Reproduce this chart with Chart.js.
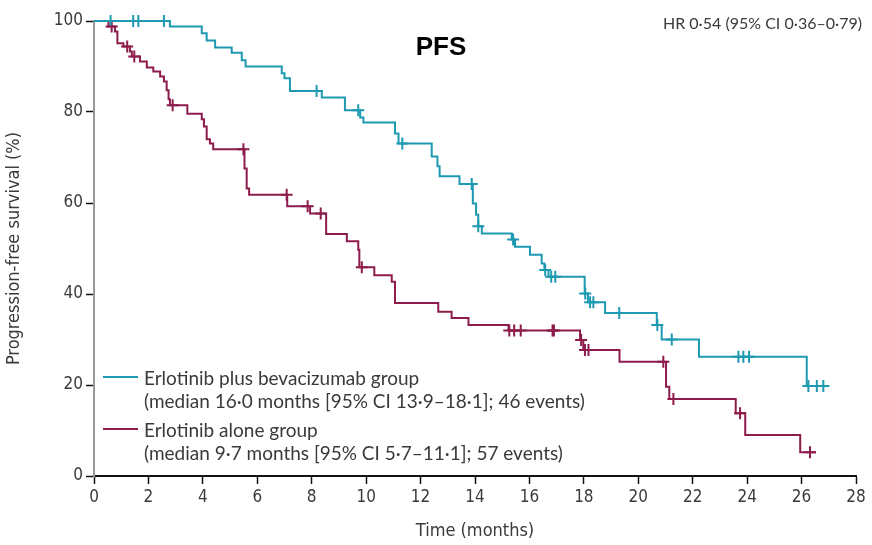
<!DOCTYPE html>
<html>
<head>
<meta charset="utf-8">
<script src="https://cdn.jsdelivr.net/npm/chart.js@4.4.1/dist/chart.umd.min.js"></script>
<style>
  html, body { margin: 0; padding: 0; background: #fff; }
</style>
</head>
<body>
<canvas id="pfsChart" width="872" height="545"></canvas>
<script>
// Kaplan-Meier steps: time of each drop (months) and survival (%) after it
const combTimes = [0, 2.79, 3.96, 4.14, 4.45, 5.06, 5.43, 5.57, 6.9, 7.0, 7.2, 8.37, 9.22, 9.78, 9.9, 11.06, 11.19, 12.41, 12.62, 12.7, 13.43, 13.92, 14.04, 14.12, 14.25, 15.35, 15.47, 16.02, 16.45, 16.55, 16.7, 18.03, 18.15, 18.78, 20.68, 20.86, 22.23, 26.19, 26.9];
const combSurv  = [100, 98.8, 97.3, 95.7, 94.2, 93.0, 91.4, 90.0, 88.5, 87.4, 84.6, 83.2, 80.4, 78.8, 77.7, 75.3, 73.1, 70.2, 68.1, 65.9, 64.2, 59.9, 57.4, 54.9, 53.3, 52.0, 50.4, 48.6, 46.7, 45.3, 43.8, 40.1, 38.2, 35.8, 33.2, 30.0, 26.2, 19.8, 19.8];
const combCensor = [0.61, 1.44, 1.63, 2.57, 8.18, 9.71, 11.33, 13.88, 14.12, 15.4, 16.58, 16.8, 16.95, 18.05, 18.23, 18.35, 19.3, 20.7, 21.23, 23.68, 23.86, 24.07, 26.25, 26.56, 26.8];

const aloneTimes = [0, 0.53, 0.77, 0.86, 1.08, 1.32, 1.39, 1.69, 1.94, 2.18, 2.43, 2.57, 2.67, 2.74, 2.79, 3.43, 3.96, 4.04, 4.14, 4.26, 4.38, 5.53, 5.61, 5.7, 7.1, 7.94, 8.53, 9.29, 9.71, 9.75, 10.3, 10.94, 11.06, 12.65, 13.14, 13.76, 15.23, 17.86, 17.98, 19.31, 21.02, 21.14, 23.58, 23.93, 25.95, 26.53];
const aloneSurv  = [100, 98.8, 97.7, 95.1, 94.4, 93.3, 92.2, 91.1, 89.8, 88.9, 87.8, 86.7, 84.8, 82.8, 81.5, 79.6, 78.4, 76.8, 74.0, 73.1, 71.8, 67.6, 63.2, 61.8, 59.3, 57.7, 53.2, 51.6, 49.7, 45.9, 44.1, 42.7, 38.0, 36.1, 34.7, 33.2, 32.0, 29.9, 27.7, 25.1, 19.6, 16.9, 13.8, 9.0, 5.2, 5.2];
const aloneCensor = [0.65, 1.22, 1.48, 2.89, 5.49, 7.08, 7.85, 8.33, 9.84, 15.26, 15.44, 15.68, 16.85, 16.9, 17.9, 18.04, 18.17, 20.92, 21.29, 23.74, 26.31];

const xTicks = [0, 2, 4, 6, 8, 10, 12, 14, 16, 18, 20, 22, 24, 26, 28];
const yTicks = [0, 20, 40, 60, 80, 100];

const legendLabels = [
    ['Erlotinib plus bevacizumab group', '(median 16·0 months [95% CI 13·9–18·1]; 46 events)'],
    ['Erlotinib alone group', '(median 9·7 months [95% CI 5·7–11·1]; 57 events)']
];
const hrText = 'HR 0·54 (95% CI 0·36–0·79)';

const cyan = '#1d9ab1';
const wine = '#8d1c4c';
const textColor = '#3a3a3a';
const narrow = "'DejaVu Sans Condensed', 'Liberation Sans Narrow', sans-serif";
const body = "Lato, 'Open Sans', sans-serif";

function toPoints(times, surv) {
    return times.map((t, i) => ({ x: t, y: surv[i] }));
}

// survival at time t from the step function, for censor marks
function survAt(times, surv, t) {
    let s = surv[0];
    for (let i = 0; i < times.length; i++) {
        if (times[i] <= t) s = surv[i];
    }
    return s;
}

function censorPoints(times, surv, cens) {
    return cens.map(t => ({ x: t, y: survAt(times, surv, t) }));
}

// pick a font size so the text spans the wanted width
function fitFont(c, text, width, family) {
    c.font = '20px ' + family;
    const size = 20 * width / c.measureText(text).width;
    c.font = size.toFixed(2) + 'px ' + family;
}

// extra text: title, HR and the in-plot legend
const annotations = {
    id: 'annotations',
    afterDraw(chart) {
        const c = chart.ctx;
        c.save();
        c.fillStyle = '#000';
        c.font = "bold 26px 'Liberation Sans', Arial, sans-serif";
        c.textAlign = 'center';
        c.textBaseline = 'alphabetic';
        c.fillText('PFS', 441, 55);

        c.fillStyle = textColor;
        fitFont(c, hrText, 199, body);
        c.textAlign = 'right';
        c.fillText(hrText, 862, 29);

        c.textAlign = 'left';
        fitFont(c, legendLabels[0][1], 441, body);
        const colors = [cyan, wine];
        const rows = [385, 437];
        legendLabels.forEach((lines, i) => {
            const y = rows[i];
            c.strokeStyle = colors[i];
            c.lineWidth = 2;
            c.beginPath();
            c.moveTo(103, y - 8);
            c.lineTo(138, y - 8);
            c.stroke();
            c.fillStyle = textColor;
            c.fillText(lines[0], 144, y);
            c.fillText(lines[1], 144, y + 23);
        });
        c.restore();
    }
};

const ctx = document.getElementById('pfsChart').getContext('2d');
const pfsChart = new Chart(ctx, {
    type: 'line',
    data: {
        datasets: [
            {
                label: 'Erlotinib plus bevacizumab group',
                data: toPoints(combTimes, combSurv),
                borderColor: cyan,
                borderWidth: 2,
                stepped: true,
                pointRadius: 0,
                fill: false,
                clip: false
            },
            {
                label: 'Erlotinib alone group',
                data: toPoints(aloneTimes, aloneSurv),
                borderColor: wine,
                borderWidth: 2,
                stepped: true,
                pointRadius: 0,
                fill: false,
                clip: false
            },
            {
                label: 'censored (bevacizumab)',
                data: censorPoints(combTimes, combSurv, combCensor),
                showLine: false,
                pointStyle: 'cross',
                pointRadius: 6,
                pointBorderWidth: 2,
                pointBorderColor: cyan,
                borderColor: cyan,
                clip: false
            },
            {
                label: 'censored (alone)',
                data: censorPoints(aloneTimes, aloneSurv, aloneCensor),
                showLine: false,
                pointStyle: 'cross',
                pointRadius: 6,
                pointBorderWidth: 2,
                pointBorderColor: wine,
                borderColor: wine,
                clip: false
            }
        ]
    },
    options: {
        responsive: false,
        animation: false,
        layout: { padding: { top: 21, right: 16, left: 0, bottom: 0 } },
        plugins: {
            legend: { display: false },
            tooltip: { enabled: false }
        },
        scales: {
            x: {
                type: 'linear',
                min: 0,
                max: 28,
                afterFit: s => { s.height = 69; },
                afterBuildTicks: s => { s.ticks = xTicks.map(v => ({ value: v })); },
                grid: { drawOnChartArea: false, drawTicks: true, tickLength: 8, tickColor: '#111', tickWidth: 1.5 },
                border: { color: '#111', width: 2 },
                ticks: { color: textColor, font: { family: narrow, size: 17 }, padding: 3 },
                title: { display: true, text: 'Time (months)', color: textColor, font: { family: narrow, size: 18 }, padding: { top: 0, bottom: 3 } }
            },
            y: {
                min: 0,
                max: 100,
                afterFit: s => { s.width = 94; },
                afterBuildTicks: s => { s.ticks = yTicks.map(v => ({ value: v })); },
                grid: { drawOnChartArea: false, drawTicks: true, tickLength: 8, tickColor: '#111', tickWidth: 1.5 },
                border: { color: '#999', width: 2 },
                ticks: { color: textColor, font: { family: narrow, size: 17 }, padding: 3 },
                title: { display: true, text: 'Progression-free survival (%)', color: textColor, font: { family: narrow, size: 18 }, padding: { top: 4, bottom: 0 } }
            }
        }
    },
    plugins: [annotations]
});
</script>
</body>
</html>
